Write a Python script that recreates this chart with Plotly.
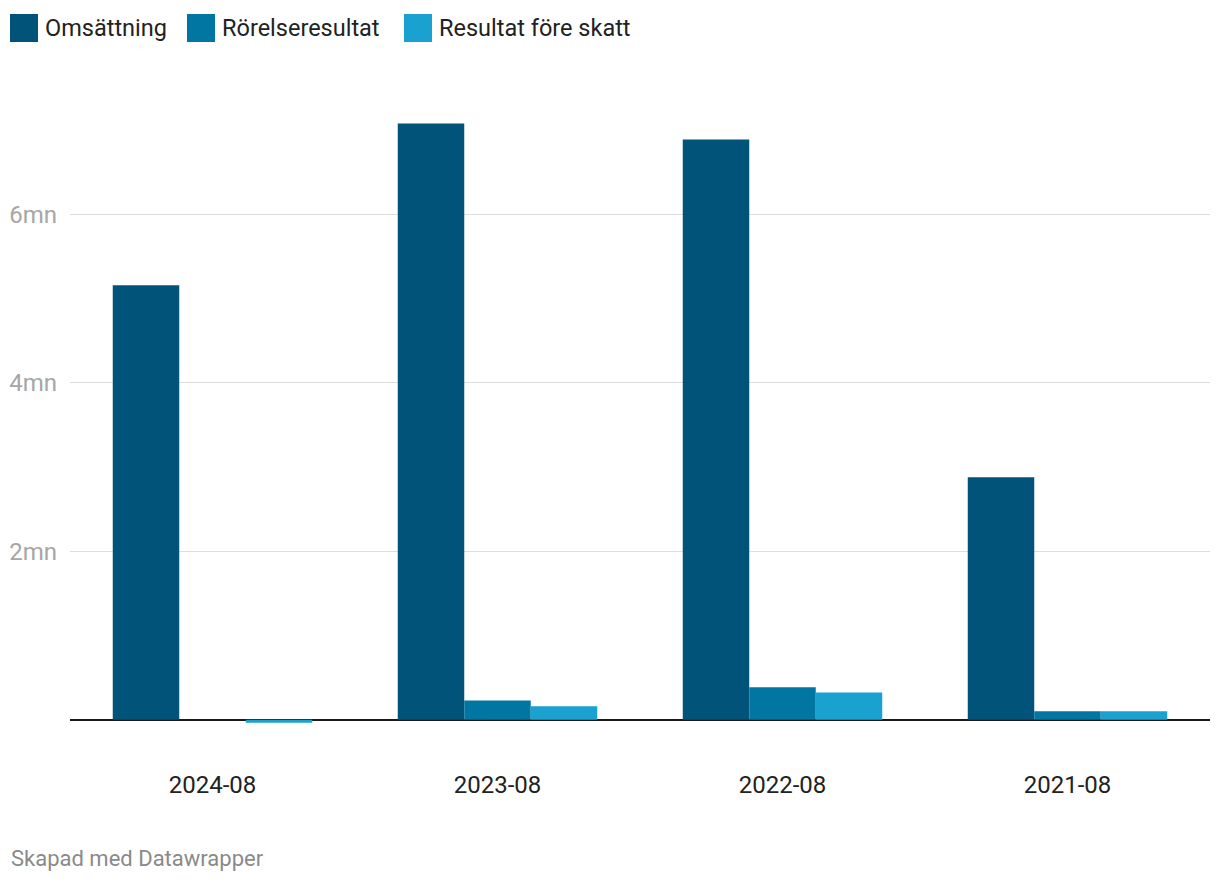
import plotly.graph_objects as go

categories = ["2024-08", "2023-08", "2022-08", "2021-08"]
series_names = ["Omsättning", "Rörelseresultat", "Resultat före skatt"]
omsattning = [5.16, 7.08, 6.89, 2.88]
rorelseresultat = [0.0, 0.23, 0.385, 0.10]
resultat_fore_skatt = [-0.035, 0.16, 0.325, 0.10]
y_tick_vals = [2, 4, 6]
y_tick_text = ["2mn", "4mn", "6mn"]
footer_text = "Skapad med Datawrapper"

colors = ["#01537a", "#0176a2", "#19a2cf"]
FONT = "Roboto"

# page has an 8px body margin; figure coords = page coords - 8
OFF = 8
W, H = 1204, 866
ML, MR, MT, MB = 62, 2, 97, 150
PW = W - ML - MR
PH = H - MT - MB


def px_x(px):
    return (px - OFF - ML) / PW


def px_y(py):
    return (H - MB - (py - OFF)) / PH


fig = go.Figure()
for name, vals, col in zip(series_names, [omsattning, rorelseresultat, resultat_fore_skatt], colors):
    fig.add_trace(go.Bar(x=categories, y=vals, name=name, marker=dict(color=col, line=dict(width=0)),
                         showlegend=False, hoverinfo="x+y+name"))

# custom legend
legend_x = [10, 187, 404]
for name, col, lx in zip(series_names, colors, legend_x):
    fig.add_shape(type="rect", xref="paper", yref="paper",
                  x0=px_x(lx), x1=px_x(lx + 28), y0=px_y(42), y1=px_y(14),
                  fillcolor=col, line=dict(width=0))
    fig.add_annotation(xref="paper", yref="paper", x=px_x(lx + 33), y=px_y(28),
                       text=name, showarrow=False, xanchor="left", yanchor="middle",
                       font=dict(family=FONT, size=23.5, color="#222222"))

fig.add_annotation(xref="paper", yref="paper", x=px_x(9), y=px_y(858),
                   text=footer_text, showarrow=False, xanchor="left", yanchor="middle",
                   font=dict(family=FONT, size=22, color="#8a8a8a"))

fig.update_layout(
    width=W, height=H,
    margin=dict(l=ML, r=MR, t=MT, b=MB, pad=0),
    paper_bgcolor="white", plot_bgcolor="white",
    barmode="group", bargap=0.30, bargroupgap=0,
    font=dict(family=FONT),
    xaxis=dict(type="category", showgrid=False, showline=False, zeroline=False,
               ticks="outside", ticklen=39, tickcolor="rgba(0,0,0,0)",
               tickfont=dict(family=FONT, size=24, color="#222222")),
    yaxis=dict(range=[-0.05, 7.3], tickvals=y_tick_vals, ticktext=y_tick_text,
               showgrid=True, gridcolor="#dedede", gridwidth=1,
               zeroline=True, zerolinecolor="#1a1a1a", zerolinewidth=2,
               showline=False, ticks="", ticklabelstandoff=12,
               tickfont=dict(family=FONT, size=24, color="#a6a6a6")),
)

fig.write_html("out.html")
